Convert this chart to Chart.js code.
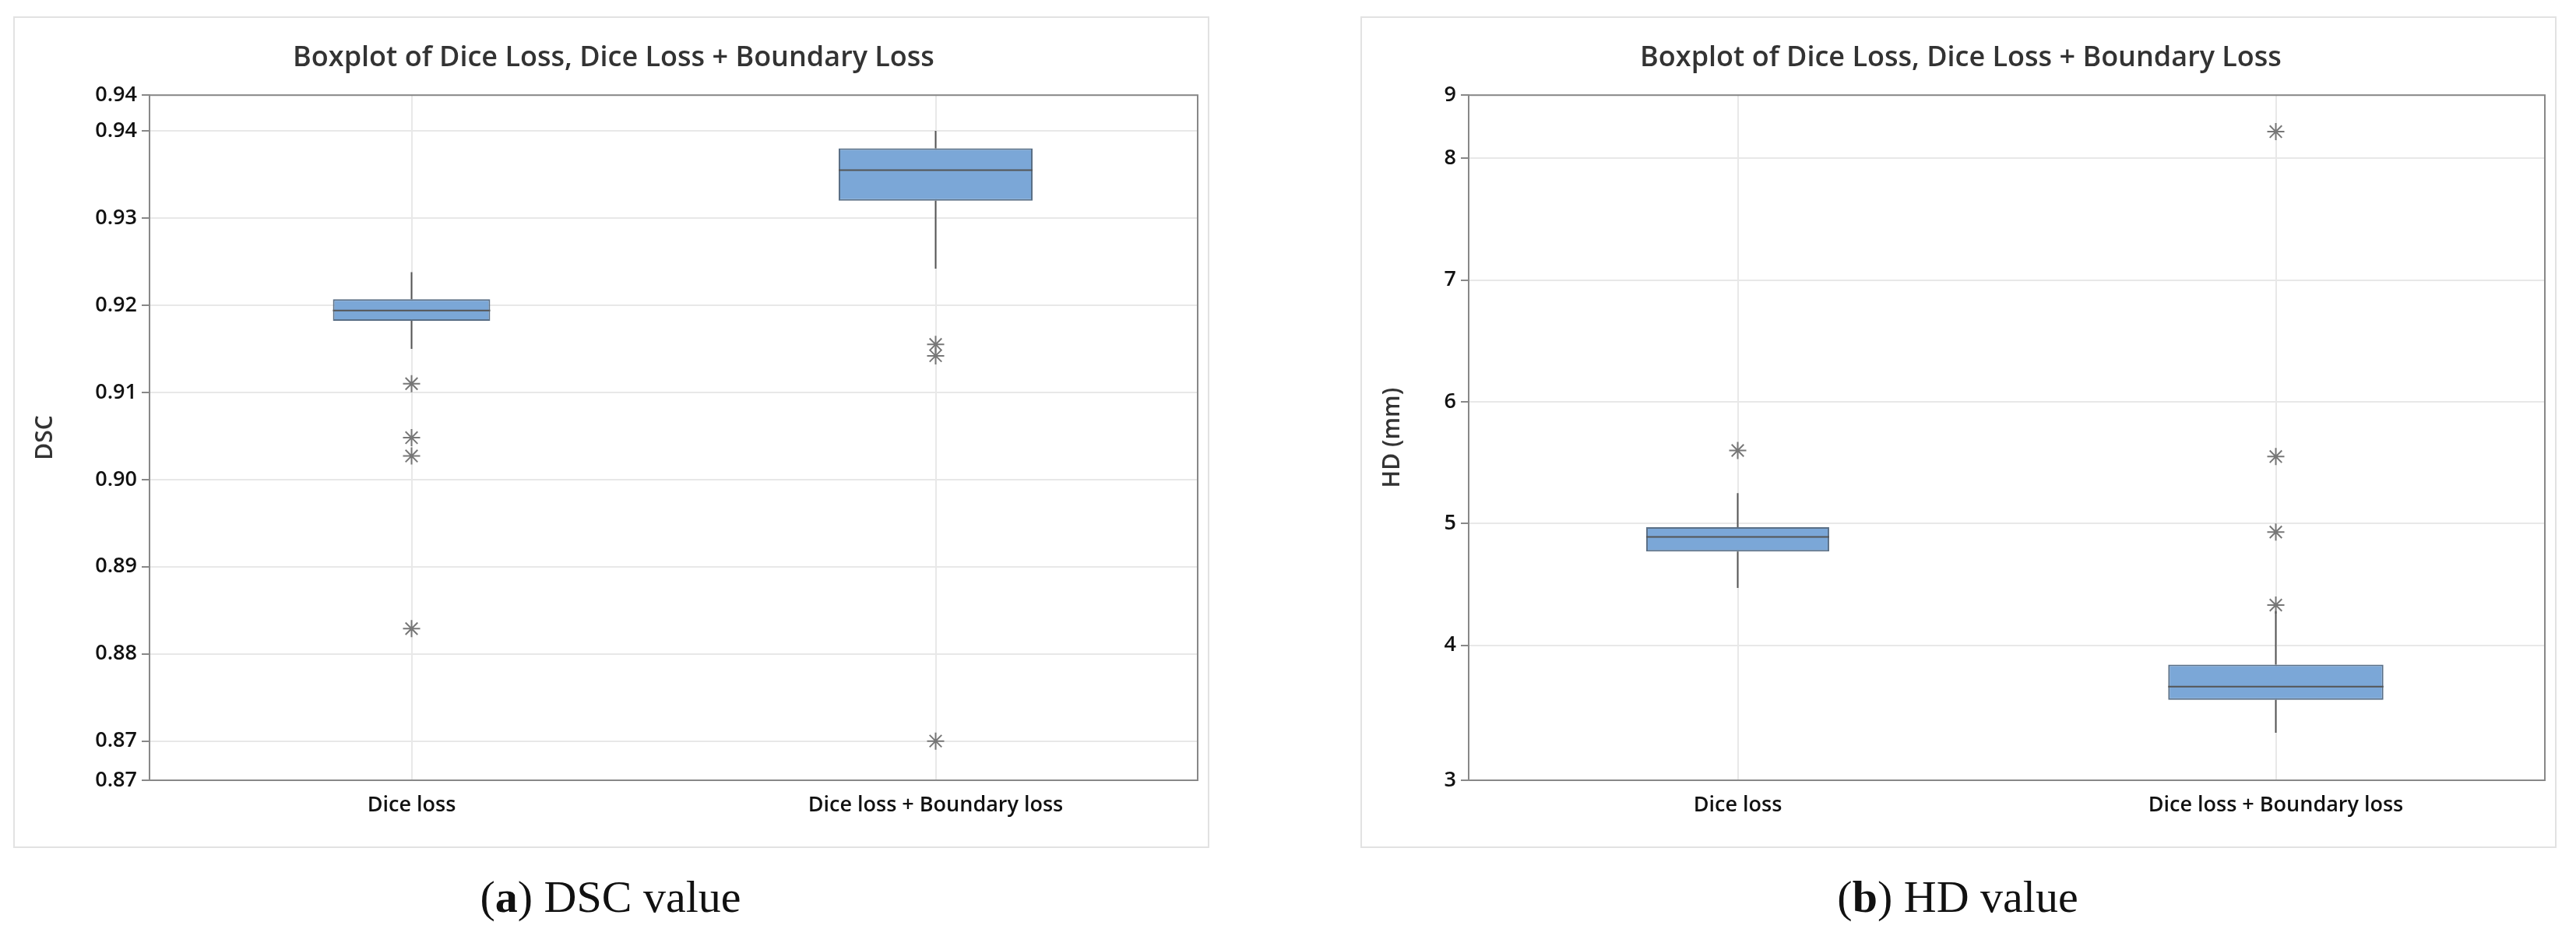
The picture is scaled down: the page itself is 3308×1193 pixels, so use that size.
<!DOCTYPE html>
<html><head><meta charset="utf-8">
<script src="https://cdn.jsdelivr.net/npm/chart.js@4"></script>
<style>
body{margin:0;width:3308px;height:1193px;background:#fff;position:relative;font-family:"Open Sans",sans-serif}
.frame{position:absolute;top:21px;width:1532px;height:1064px;border:2px solid #e2e2e2}
.cap{position:absolute;top:1118px;font-family:"Liberation Serif",serif;font-size:58px;color:#111;width:1534px;text-align:center}
</style></head><body>
<div class="frame" style="left:17px"><canvas id="c1" width="1532" height="1064"></canvas></div>
<div class="frame" style="left:1747px"><canvas id="c2" width="1532" height="1064"></canvas></div>
<div class="cap" style="left:17px">(<b>a</b>) DSC value</div>
<div class="cap" style="left:1747px">(<b>b</b>) HD value</div>
<script>
const categories = ["Dice loss", "Dice loss + Boundary loss"];
// [whiskerLow, Q1, median, Q3, whiskerHigh]
const dscDice = [0.9150, 0.9182, 0.9194, 0.9207, 0.9238];
const dscBoundary = [0.9242, 0.9320, 0.9355, 0.9380, 0.9400];
const dscDiceOutliers = [0.9110, 0.9048, 0.9027, 0.8829];
const dscBoundaryOutliers = [0.9155, 0.9142, 0.8700];
const hdDice = [4.47, 4.77, 4.89, 4.97, 5.25];
const hdBoundary = [3.28, 3.55, 3.66, 3.84, 4.28];
const hdDiceOutliers = [5.60];
const hdBoundaryOutliers = [4.33, 4.93, 5.55, 8.22];

const whiskerPlugin = {
  id: 'whiskers',
  afterDatasetsDraw(chart) {
    const ctx = chart.ctx, y = chart.scales.y;
    chart.data.datasets.forEach((ds, di) => {
      if (!ds.stats) return;
      const meta = chart.getDatasetMeta(di);
      ds.stats.forEach((s, i) => {
        if (!s) return;
        const el = meta.data[i];
        if (!el) return;
        const x = el.x, w = el.width;
        ctx.save();
        ctx.strokeStyle = '#555'; ctx.lineWidth = 2;
        ctx.beginPath();
        ctx.moveTo(x, y.getPixelForValue(s[0])); ctx.lineTo(x, y.getPixelForValue(s[1]));
        ctx.moveTo(x, y.getPixelForValue(s[3])); ctx.lineTo(x, y.getPixelForValue(s[4]));
        ctx.stroke();
        ctx.beginPath();
        const my = y.getPixelForValue(s[2]);
        ctx.moveTo(x - w / 2, my); ctx.lineTo(x + w / 2, my);
        ctx.stroke();
        ctx.restore();
      });
    });
  }
};

function make(id, a, b, oa, ob, bpA, bpB, yTitle, ymin, ymax, step, fmt, yWidth) {
  const boxDs = (s, idx, bp) => ({
    type: 'bar',
    data: categories.map((c, i) => i === idx ? [s[1], s[3]] : null),
    stats: categories.map((c, i) => i === idx ? s : null),
    backgroundColor: '#7ba7d7', borderColor: '#5a6f86', borderWidth: 2, borderSkipped: false,
    barPercentage: bp, categoryPercentage: 1, grouped: false, order: 2
  });
  const outDs = (vals, idx) => ({
    type: 'line', showLine: false,
    data: vals.map(v => ({x: categories[idx], y: v})),
    pointStyle: 'star', pointRadius: 11, borderColor: '#777', borderWidth: 2,
    backgroundColor: 'transparent', order: 1
  });
  new Chart(document.getElementById(id), {
    type: 'bar',
    data: {labels: categories, datasets: [boxDs(a, 0, bpA), boxDs(b, 1, bpB), outDs(oa, 0), outDs(ob, 1)]},
    options: {
      responsive: false, animation: false,
      layout: {padding: {left: 17, right: 11, top: 0, bottom: 0}},
      plugins: {
        legend: {display: false}, tooltip: {enabled: false},
        title: {display: true, text: 'Boxplot of Dice Loss, Dice Loss + Boundary Loss',
          color: '#333', font: {family: 'Open Sans', size: 36, weight: '600'}, padding: {top: 30, bottom: 26}}
      },
      scales: {
        x: {
          grid: {offset: false, color: '#e8e8e8', lineWidth: 2, drawTicks: false},
          border: {color: '#888', width: 2},
          ticks: {color: '#111', font: {family: 'Open Sans', size: 27, weight: '600'}, padding: 16},
          afterFit: s => { s.height = 85; }
        },
        y: {
          min: ymin, max: ymax,
          grid: {color: '#e8e8e8', lineWidth: 2, tickLength: 10, tickColor: '#888'},
          border: {color: '#888', width: 2},
          ticks: {stepSize: step, color: '#111', font: {family: 'Open Sans', size: 27, weight: '600'},
            callback: v => fmt(v), padding: 6},
          title: {display: true, text: yTitle, color: '#333', font: {family: 'Open Sans', size: 30, weight: '600'}},
          afterFit: s => { s.width = yWidth; }
        }
      }
    },
    plugins: [whiskerPlugin, {
      id: 'frameBorder',
      afterDraw(chart) {
        const {ctx, chartArea: c} = chart;
        ctx.save(); ctx.strokeStyle = '#888'; ctx.lineWidth = 2;
        ctx.strokeRect(c.left, c.top, c.right - c.left, c.bottom - c.top);
        ctx.restore();
      }
    }]
  });
}

make('c1', dscDice, dscBoundary, dscDiceOutliers, dscBoundaryOutliers, 0.30, 0.37,
  'DSC', 0.8655, 0.9441, 0.01, v => v.toFixed(2), 156);
make('c2', hdDice, hdBoundary, hdDiceOutliers, hdBoundaryOutliers, 0.34, 0.40,
  'HD (mm)', 2.89, 8.52, 1, v => String(Math.round(v)), 120);
</script>
</body></html>
